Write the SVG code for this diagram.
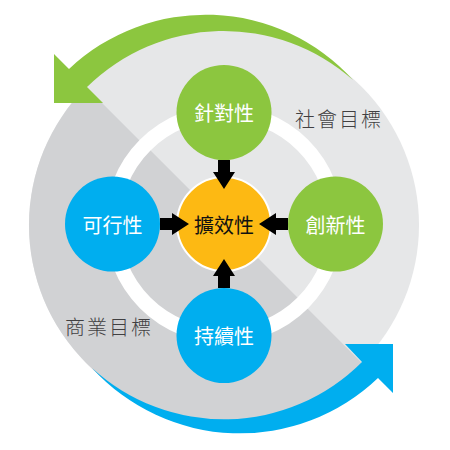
<svg xmlns="http://www.w3.org/2000/svg" width="450" height="450" viewBox="0 0 450 450">
<style>
.light{fill:#e6e7e8}
.dark{fill:#d1d2d4}
.node-g{fill:#8cc63f}
.node-b{fill:#00aeef}
.ntxt{font-family:"Noto Sans CJK TC","Noto Sans CJK SC",sans-serif;font-size:20px;fill:#ffffff;text-anchor:middle;dominant-baseline:central}
.ctxt{font-family:"Noto Sans CJK TC","Noto Sans CJK SC",sans-serif;font-size:20px;fill:#111111;text-anchor:middle;dominant-baseline:central}
.lbl{font-family:"Noto Sans CJK TC","Noto Sans CJK SC",sans-serif;font-size:20px;font-weight:300;fill:#414042;text-anchor:middle;dominant-baseline:central;letter-spacing:2px}
.arr{fill:#000000}
</style>
<defs>
<path id="arrow" d="M -64,-6 L -52,-6 L -52,-11 L -35,0 L -52,11 L -52,6 L -64,6 Z"/>
</defs>
<g id="background">
<circle class="light" cx="224" cy="225" r="195"/>
<path class="dark" d="M 86.1,87.1 A 195 195 0 0 0 361.9,362.9 Z"/>
<circle class="light" cx="224" cy="224" r="112"/>
<path class="dark" d="M 144.8,144.8 A 112 112 0 0 0 303.2,303.2 Z"/>
<circle cx="224" cy="224" r="111.5" fill="none" stroke="#ffffff" stroke-width="15"/>
</g>
<g id="cycle-arrows">
<path id="green-arrow" fill="#8cc63f" d="M 103,103 L 54,103 L 54,54 L 69,69 A 199 199 0 0 1 353,80 A 195 195 0 0 0 87,87 Z"/>
<path id="blue-arrow" fill="#00aeef" d="M 345,344 L 393,344 L 393,393 L 378,378 A 200 200 0 0 1 92,368 A 195 195 0 0 0 362,362 Z"/>
</g>
<g id="labels">
<text class="lbl" x="339" y="118">社會目標</text>
<text class="lbl" x="109" y="326">商業目標</text>
</g>
<g id="node-top">
<circle class="node-g" cx="224" cy="112.5" r="47.5"/>
<text class="ntxt" x="224" y="112.5">針對性</text>
</g>
<g id="node-left">
<circle class="node-b" cx="112.5" cy="224" r="47.5"/>
<text class="ntxt" x="112.5" y="224">可行性</text>
</g>
<g id="node-right">
<circle class="node-g" cx="335.5" cy="224" r="47.5"/>
<text class="ntxt" x="335.5" y="224">創新性</text>
</g>
<g id="node-bottom">
<circle class="node-b" cx="224" cy="335.5" r="47.5"/>
<text class="ntxt" x="224" y="335.5">持續性</text>
</g>
<g id="node-center">
<circle cx="224" cy="224" r="47" fill="#fdb913" stroke="#ffffff" stroke-width="2"/>
</g>
<g id="connectors">
<use href="#arrow" class="arr" transform="translate(224,224) rotate(0)"/>
<use href="#arrow" class="arr" transform="translate(224,224) rotate(90)"/>
<use href="#arrow" class="arr" transform="translate(224,224) rotate(180)"/>
<use href="#arrow" class="arr" transform="translate(224,224) rotate(270)"/>
</g>
<g id="center-label">
<text class="ctxt" x="224" y="224">擴效性</text>
</g>
</svg>
